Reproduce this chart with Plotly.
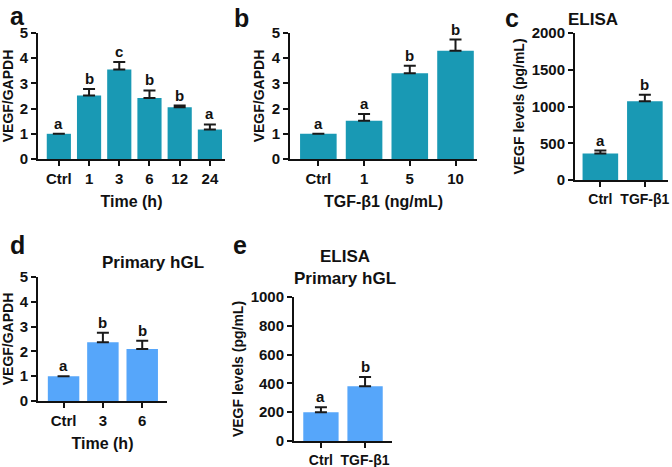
import plotly.graph_objects as go

# panel a: VEGF/GAPDH vs time
a_cats = ['Ctrl', '1', '3', '6', '12', '24']
a_vals = [1.0, 2.52, 3.55, 2.42, 2.05, 1.17]
a_err = [0.0, 0.26, 0.30, 0.30, 0.07, 0.20]
a_sig = ['a', 'b', 'c', 'b', 'b', 'a']

# panel b: VEGF/GAPDH vs TGF-b1 dose
b_cats = ['Ctrl', '1', '5', '10']
b_vals = [1.0, 1.52, 3.40, 4.30]
b_err = [0.0, 0.27, 0.30, 0.44]
b_sig = ['a', 'a', 'b', 'b']

# panel c: ELISA
c_cats = ['Ctrl', 'TGF-β1']
c_vals = [360, 1070]
c_err = [40, 90]
c_sig = ['a', 'b']

# panel d: primary hGL
d_cats = ['Ctrl', '3', '6']
d_vals = [1.0, 2.37, 2.10]
d_err = [0.0, 0.38, 0.33]
d_sig = ['a', 'b', 'b']

# panel e: ELISA primary hGL
e_cats = ['Ctrl', 'TGF-β1']
e_vals = [200, 380]
e_err = [35, 65]
e_sig = ['a', 'b']

TEAL = '#1999b4'
BLUE = '#56a6fa'
FONT = 'Liberation Sans'
INK = '#111111'
W, H = 672, 467

fig = go.Figure()


def px2x(p):
    return p / W


def px2y(p):
    return 1 - p / H


def bold(size):
    return dict(family=FONT, size=size, color=INK, weight='bold')


def panel(n, cats, vals, err, sig, color, xdom, ydom, xrange, yrange, dtick,
          ytitle, xtitle=None, tsize=15):
    xa = 'x' if n == 1 else f'x{n}'
    ya = 'y' if n == 1 else f'y{n}'
    pos = list(range(len(cats)))
    fig.add_trace(go.Bar(
        x=pos, y=vals, marker_color=color, marker_line_width=0, width=0.8,
        error_y=dict(type='data', array=err, arrayminus=[0] * len(err),
                     symmetric=False, color='#1a1a1a', thickness=2, width=6),
        xaxis=xa, yaxis=ya, showlegend=False, hoverinfo='skip'))
    for i, v, e, s in zip(pos, vals, err, sig):
        fig.add_annotation(x=i, y=v + e, xref=xa, yref=ya, text=s,
                           showarrow=False, yanchor='bottom', yshift=0,
                           font=bold(15))
    axkey = 'xaxis' if n == 1 else f'xaxis{n}'
    aykey = 'yaxis' if n == 1 else f'yaxis{n}'
    fig.update_layout(**{
        axkey: dict(domain=[px2x(xdom[0]), px2x(xdom[1])], anchor=ya,
                    range=xrange, tickvals=pos, ticktext=cats,
                    showline=True, linecolor=INK, linewidth=2,
                    ticks='outside', ticklen=5, tickwidth=2, tickcolor=INK,
                    tickfont=bold(tsize), showgrid=False, zeroline=False,
                    automargin=False,
                    title=dict(text=xtitle, standoff=10, font=bold(16))
                    if xtitle else None),
        aykey: dict(domain=[px2y(ydom[1]), px2y(ydom[0])], anchor=xa,
                    range=yrange, dtick=dtick, showline=True,
                    linecolor=INK, linewidth=2, ticks='outside',
                    ticklen=5, tickwidth=2, tickcolor=INK,
                    tickfont=bold(15), showgrid=False, zeroline=False,
                    automargin=False,
                    title=dict(text=ytitle, standoff=4, font=bold(14))),
    })


panel(1, a_cats, a_vals, a_err, a_sig, TEAL, (38, 225), (33, 159),
      [-0.69, 5.5], [0, 5], 1, 'VEGF/GAPDH', 'Time (h)')
panel(2, b_cats, b_vals, b_err, b_sig, TEAL, (290, 477), (33, 159),
      [-0.62, 3.47], [0, 5], 1, 'VEGF/GAPDH', 'TGF-β1 (ng/mL)')
panel(3, c_cats, c_vals, c_err, c_sig, TEAL, (575, 668), (33, 180),
      [-0.57, 1.52], [0, 2000], 500, 'VEGF levels (pg/mL)', tsize=14)
panel(4, d_cats, d_vals, d_err, d_sig, BLUE, (38, 167), (277, 401),
      [-0.65, 2.63], [0, 5], 1, 'VEGF/GAPDH', 'Time (h)')
panel(5, e_cats, e_vals, e_err, e_sig, BLUE, (294, 392), (297, 441),
      [-0.61, 1.61], [0, 1000], 200, 'VEGF levels (pg/mL)', tsize=14)

# panel letters and titles
labels = [('a', 8, 0), ('b', 241, 2), ('c', 521, 2), ('d', 8, 245),
          ('e', 240, 245)]
for t, x, y in labels:
    fig.add_annotation(x=px2x(x), y=px2y(y), xref='paper', yref='paper',
                       text=t, showarrow=False, font=bold(25))

titles = [('ELISA', 620, 8), ('Primary hGL', 100, 262),
          ('ELISA<br>Primary hGL', 345, 267)]
for t, x, y in titles:
    fig.add_annotation(x=px2x(x), y=px2y(y), xref='paper', yref='paper',
                       text=t, showarrow=False, font=bold(17))

fig.update_layout(width=W, height=H, margin=dict(l=0, r=0, t=0, b=0),
                  plot_bgcolor='white', paper_bgcolor='white')

# drop the page's default body margin so the figure sits at 0,0
fig.write_html('out.html', config={'displayModeBar': False},
               post_script="document.body.style.margin='0';"
                           "document.body.style.overflow='hidden';")
